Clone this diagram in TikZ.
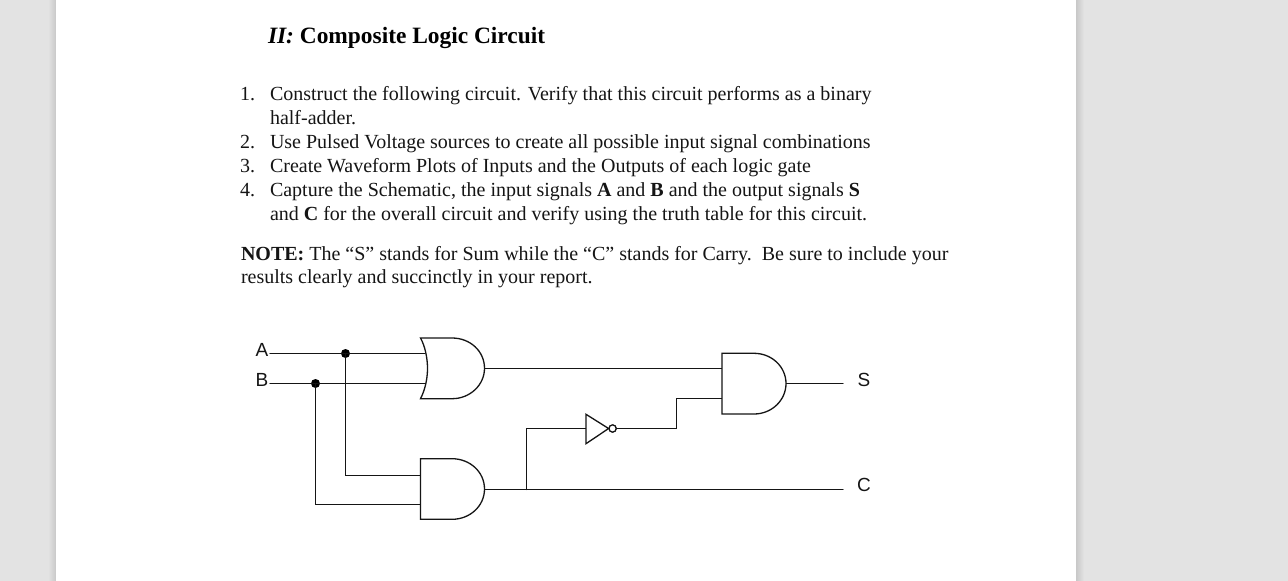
\documentclass[tikz,border=0pt]{standalone}
\usepackage{fontspec}
\setmainfont{Liberation Serif}
\newfontfamily\labelfont{Liberation Sans}
\definecolor{pagebg}{HTML}{E3E3E3}
\definecolor{pageedge}{HTML}{C8C8C8}
\definecolor{ink}{HTML}{151515}
\tikzset{
  body/.style={anchor=base west,inner sep=0pt,outer sep=0pt,text=ink,font=\fontsize{20}{24}\selectfont},
  ttl/.style={anchor=base west,inner sep=0pt,outer sep=0pt,text=black,font=\fontsize{23.4}{28}\selectfont\bfseries},
  siglabel/.style={inner sep=0pt,outer sep=0pt,text=ink,font=\labelfont\fontsize{19}{22}\selectfont},
  wire/.style={draw=ink,line width=1.3pt,line cap=round,line join=miter},
  gate/.style={draw=ink,line width=1.3pt,fill=white,line join=miter},
  junction/.style={circle,fill=black,draw=none,minimum size=9pt,inner sep=0pt,outer sep=0pt},
  bubble/.style={circle,fill=white,draw=ink,line width=1.2pt,minimum size=7.2pt,inner sep=0pt,outer sep=0pt}
}
\begin{document}
\begin{tikzpicture}[x=1pt,y=-1pt]
\useasboundingbox (0,0) rectangle (1288,581);
\fill[pagebg] (0,0) rectangle (1288,581);
\shade[left color=pagebg,right color=pageedge] (48,0) rectangle (56,581);
\shade[left color=pageedge,right color=pagebg] (1076,0) rectangle (1084,581);
\fill[white] (56,0) rectangle (1076,581);

% text
\node[ttl] (title) at (268,43) {\textit{II:} Composite Logic Circuit};
\node[body] (n1) at (240,100) {1.};
\node[body] (l1) at (270,100) {Construct the following circuit. Verify that this circuit performs as a binary};
\node[body] (l1b) at (270,124) {half-adder.};
\node[body] (n2) at (240,148) {2.};
\node[body] (l2) at (270,148) {Use Pulsed Voltage sources to create all possible input signal combinations};
\node[body] (n3) at (240,172) {3.};
\node[body] (l3) at (270,172) {Create Waveform Plots of Inputs and the Outputs of each logic gate};
\node[body] (n4) at (240,196) {4.};
\node[body] (l4) at (270,196) {Capture the Schematic, the input signals \textbf{A} and \textbf{B} and the output signals \textbf{S}};
\node[body] (l4b) at (270,220) {and \textbf{C} for the overall circuit and verify using the truth table for this circuit.};
\node[body] (note) at (241,260) {\textbf{NOTE:} The “S” stands for Sum while the “C” stands for Carry.\ \ Be sure to include your};
\node[body] (noteb) at (241,283) {results clearly and succinctly in your report.};

% signal labels
\node[siglabel] (A) at (262,350) {A};
\node[siglabel] (B) at (262,380) {B};
\node[siglabel] (S) at (864,380) {S};
\node[siglabel] (C) at (864,485) {C};

% named points
\coordinate (Aw) at (270,353.5);
\coordinate (Bw) at (270,383.5);
\coordinate (G1a) at (425,353.5);
\coordinate (G1b) at (425,383.5);
\coordinate (G1o) at (484.5,368.5);
\coordinate (G2a) at (420.5,475.5);
\coordinate (G2b) at (420.5,504.5);
\coordinate (G2o) at (484.5,489.5);
\coordinate (G3a) at (722,368.5);
\coordinate (G3b) at (722,398.5);
\coordinate (G3o) at (786,383.5);
\coordinate (Send) at (843,383.5);
\coordinate (Cend) at (843,489.5);
\coordinate (Tap) at (526.5,489.5);
\coordinate (Ninp) at (586,428.5);
\coordinate (Jog) at (676.5,428.5);
\node[junction] (JA) at (345.5,353.5) {};
\node[junction] (JB) at (315.5,383.5) {};
\node[bubble] (Nb) at (612.6,428.5) {};

% wires
\draw[wire] (Aw) -- (G1a);
\draw[wire] (Bw) -- (G1b);
\draw[wire] (JA.center) |- (G2a);
\draw[wire] (JB.center) |- (G2b);
\draw[wire] (G1o) -- (G3a);
\draw[wire] (G2o) -- (Cend);
\draw[wire] (Tap) |- (Ninp);
\draw[wire] (Nb.east) -- (Jog) |- (G3b);
\draw[wire] (G3o) -- (Send);

% gates
\draw[gate] (420.5,338) .. controls (425,346) and (427.5,358) .. (427.5,368.3)
  .. controls (427.5,379) and (425,390) .. (420.5,398.7)
  -- (452,398.7) .. controls (470,398.7) and (484.5,385) .. (484.5,368.3)
  .. controls (484.5,351) and (470,338) .. (452,338) -- cycle;
\draw[gate] (420.5,458.7) -- (452,458.7) .. controls (470,458.7) and (484.5,472) .. (484.5,489)
  .. controls (484.5,506) and (470,519.3) .. (452,519.3) -- (420.5,519.3) -- cycle;
\draw[gate] (722,353.3) -- (754,353.3) .. controls (772,353.3) and (786,367) .. (786,383.5)
  .. controls (786,400) and (772,414) .. (754,414) -- (722,414) -- cycle;
\draw[gate] (586,414.3) -- (608.6,428.5) -- (586,443.7) -- cycle;
\node[bubble] at (Nb) {};
\end{tikzpicture}
\end{document}
